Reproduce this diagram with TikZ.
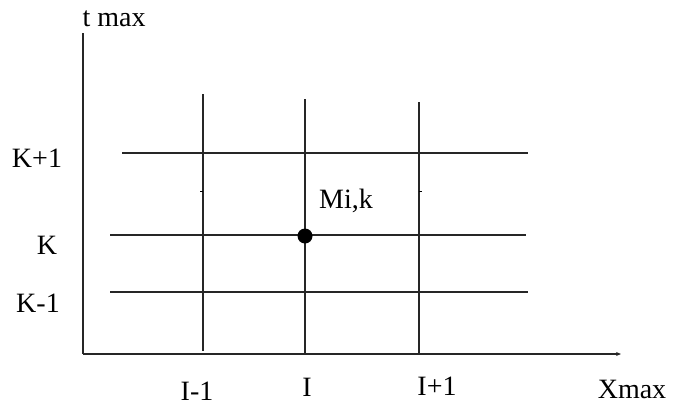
\documentclass[tikz,border=0pt]{standalone}
\usepackage{fontspec}
\setmainfont{Liberation Serif}
\usetikzlibrary{arrows.meta}
\begin{document}
\begin{tikzpicture}[x=1pt,y=-1pt,
  gridline/.style={line width=1.6pt,black!85},
  axisline/.style={line width=1.6pt,black!85},
  lbl/.style={font=\fontsize{28}{30}\selectfont,inner sep=0pt}]
\useasboundingbox (0,0) rectangle (675,407);
% coordinates
\coordinate (O) at (83,354);
\coordinate (Ytop) at (83,33);
\coordinate (Xend) at (621,354);
\coordinate (a1) at (203,94);  \coordinate (a2) at (203,351);
\coordinate (b1) at (305,99);  \coordinate (b2) at (305,354);
\coordinate (c1) at (419,102); \coordinate (c2) at (419,354);
\coordinate (h1a) at (122,153); \coordinate (h1b) at (528,153);
\coordinate (h2a) at (110,235); \coordinate (h2b) at (526,235);
\coordinate (h3a) at (110,292); \coordinate (h3b) at (528,292);
% axes
\draw[axisline] (Ytop) -- (O);
\draw[axisline,-{Stealth[length=5pt,width=4pt]}] (O) -- (Xend);
% grid
\draw[gridline] (a1) -- (a2);
\draw[gridline] (b1) -- (b2);
\draw[gridline] (c1) -- (c2);
\draw[gridline] (h1a) -- (h1b);
\draw[gridline] (h2a) -- (h2b);
\draw[gridline] (h3a) -- (h3b);
% tiny ticks
\coordinate (t1a) at (200,191); \coordinate (t1b) at (203,191);
\coordinate (t2a) at (419,191); \coordinate (t2b) at (422,191);
\draw[line width=1pt] (t1a) -- (t1b);
\draw[line width=1pt] (t2a) -- (t2b);
% point
\node[circle,fill=black,minimum size=15pt,inner sep=0pt] (M) at (305,236) {};
% labels
\node[lbl] (tmax) at (114,19) {t max};
\node[lbl] (kp) at (37,158) {K+1};
\node[lbl] (k) at (47,245) {K};
\node[lbl] (km) at (38,303) {K-1};
\node[lbl] (im) at (197,391) {I-1};
\node[lbl] (i) at (307,387) {I};
\node[lbl] (ip) at (437,386) {I+1};
\node[lbl] (xmax) at (632,389) {Xmax};
\node[lbl] (mik) at (346,201) {Mi,k};
\end{tikzpicture}
\end{document}
